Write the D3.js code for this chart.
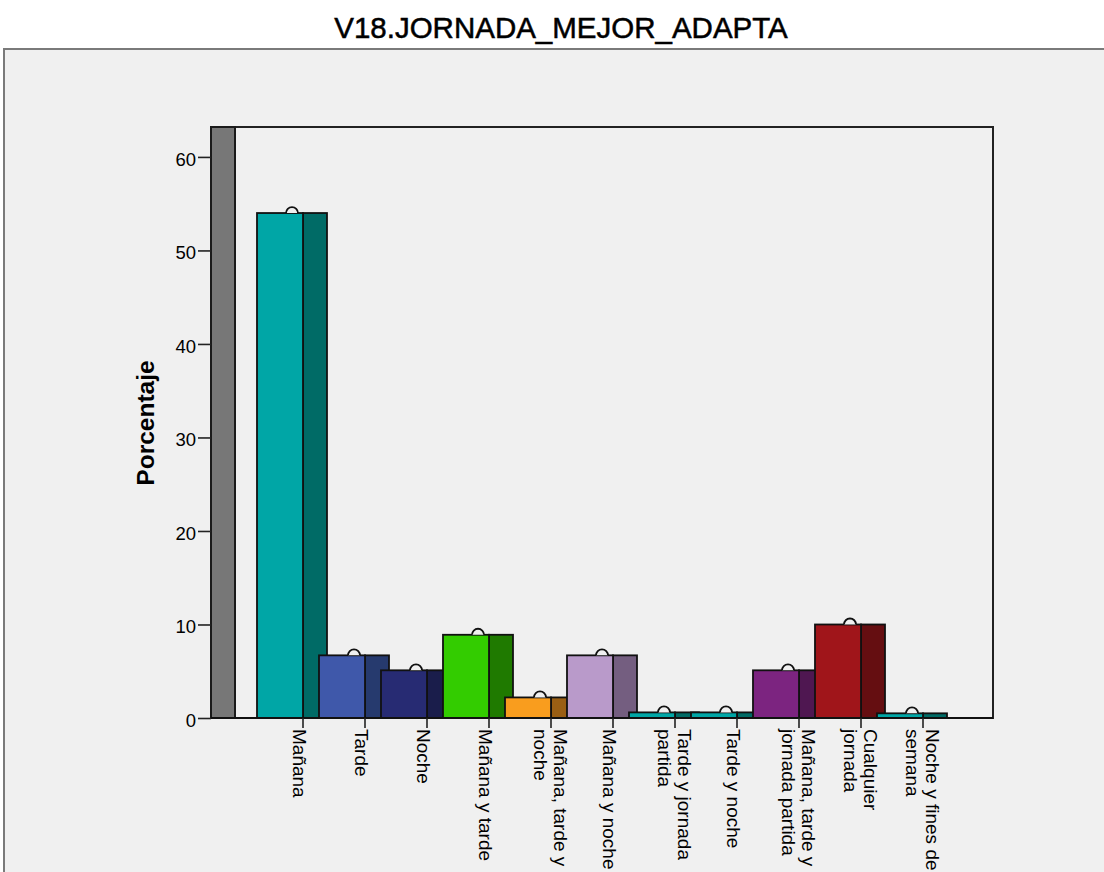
<!DOCTYPE html>
<html>
<head>
<meta charset="utf-8">
<script src="https://cdn.jsdelivr.net/npm/d3@7"></script>
<style>
  html, body { margin: 0; padding: 0; background: #ffffff; }
  svg { display: block; }
  text { font-family: "Liberation Sans", Arial, sans-serif; fill: #000; }
</style>
</head>
<body>
<svg id="chart" width="1104" height="872"></svg>
<script>
const title = "V18.JORNADA_MEJOR_ADAPTA";
const yLabel = "Porcentaje";
const categories = [
  "Mañana", "Tarde", "Noche", "Mañana y tarde", "Mañana, tarde y noche",
  "Mañana y noche", "Tarde y jornada partida", "Tarde y noche",
  "Mañana, tarde y jornada partida", "Cualquier jornada", "Noche y fines de semana"
];
const values = [54.0, 6.7, 5.1, 8.9, 2.2, 6.7, 0.6, 0.6, 5.1, 10.0, 0.5];
const frontColors = ["#00a6a6", "#3f58aa", "#272b73", "#33cc00", "#f99d1e", "#b99aca",
  "#00a6a6", "#00a6a6", "#7c2480", "#a0151a", "#00a6a6"];
const sideColors = ["#006b66", "#263a6e", "#1a1d4b", "#1f7a00", "#9a5f14", "#745e80",
  "#006b66", "#006b66", "#4f1751", "#650e11", "#006b66"];
const yTicks = [0, 10, 20, 30, 40, 50, 60];
const yMax = 63.2;

const svg = d3.select("#chart");

// outer frame
svg.append("rect").attr("x", 4).attr("y", 49).attr("width", 1200).attr("height", 900)
  .attr("fill", "#f0f0f0").attr("stroke", "#7a7a7a").attr("stroke-width", 2);

svg.append("text").attr("x", 561).attr("y", 38).attr("text-anchor", "middle")
  .attr("font-size", 29.5).attr("stroke", "#000").attr("stroke-width", 0.5).text(title);

const plot = { left: 211, right: 993, top: 127, bottom: 718 };

const y = d3.scaleLinear().domain([0, yMax]).range([plot.bottom, plot.top]);
const x = d3.scaleBand().domain(categories).range([272, 954]).paddingInner(0).paddingOuter(0);
const step = x.bandwidth();
const tickX = c => x(c) + step / 2;
const frontW = step * 0.742;
const sideW = step * 0.387;

// plot frame
svg.append("rect").attr("x", plot.left).attr("y", plot.top)
  .attr("width", plot.right - plot.left).attr("height", plot.bottom - plot.top)
  .attr("fill", "#f0f0f0").attr("stroke", "#222").attr("stroke-width", 2);

// gray wall
svg.append("rect").attr("x", plot.left).attr("y", plot.top)
  .attr("width", 24).attr("height", plot.bottom - plot.top)
  .attr("fill", "#777777").attr("stroke", "#1a1a1a").attr("stroke-width", 2);

// bars
const bars = svg.append("g");
categories.forEach((c, i) => {
  const t = tickX(c);
  const top = y(values[i]);
  const h = y(0) - top;
  const g = bars.append("g");
  g.append("rect").attr("x", t).attr("y", top).attr("width", sideW).attr("height", h)
    .attr("fill", sideColors[i]).attr("stroke", "#111").attr("stroke-width", 1.8);
  g.append("rect").attr("x", t - frontW).attr("y", top).attr("width", frontW).attr("height", h)
    .attr("fill", frontColors[i]).attr("stroke", "#111").attr("stroke-width", 1.8);
  const cx = t - 11, r = 6;
  g.append("path")
    .attr("d", `M${cx - r},${top} A${r},${r} 0 0 1 ${cx + r},${top}`)
    .attr("fill", "#f0f0f0").attr("stroke", "#111").attr("stroke-width", 1.8);
});

// baseline
svg.append("line").attr("x1", plot.left).attr("x2", plot.right)
  .attr("y1", y(0)).attr("y2", y(0)).attr("stroke", "#111").attr("stroke-width", 2);

// y axis
const yAxis = d3.axisLeft(y).tickValues(yTicks).tickSize(13).tickPadding(2).tickFormat(d3.format("d"));
const ya = svg.append("g").attr("transform", `translate(${plot.left},0)`).call(yAxis);
ya.select(".domain").remove();
ya.selectAll(".tick line").attr("stroke", "#222").attr("stroke-width", 1.6);
ya.selectAll(".tick text").attr("font-size", 18.5).attr("font-family", "Liberation Sans, Arial, sans-serif")
  .attr("fill", "#222").attr("dy", "0.45em");

svg.append("text").attr("transform", "translate(154,423) rotate(-90)")
  .attr("text-anchor", "middle").attr("font-size", 24.5).attr("font-weight", "bold").text(yLabel);

// x ticks and labels
const fs = 19;
const measurer = svg.append("text").attr("font-size", fs).attr("visibility", "hidden");
function wrap(label, maxW) {
  const words = label.split(" ");
  const lines = [];
  let cur = "";
  words.forEach(w => {
    const test = cur ? cur + " " + w : w;
    measurer.text(test);
    if (cur && measurer.node().getComputedTextLength() > maxW) {
      lines.push(cur); cur = w;
    } else cur = test;
  });
  if (cur) lines.push(cur);
  return lines;
}

const xl = svg.append("g");
categories.forEach(c => {
  const t = tickX(c);
  xl.append("line").attr("x1", t).attr("x2", t).attr("y1", plot.bottom).attr("y2", plot.bottom + 10)
    .attr("stroke", "#222").attr("stroke-width", 1.6);
  const lines = wrap(c, 142);
  const n = lines.length;
  const baseX = t - 10 + (n - 1) * 13;
  const txt = xl.append("text").attr("font-size", fs)
    .attr("transform", `translate(${baseX},729) rotate(90)`);
  lines.forEach((ln, k) => {
    txt.append("tspan").attr("x", 0).attr("y", k * 20).text(ln);
  });
});
measurer.remove();
</script>
</body>
</html>
